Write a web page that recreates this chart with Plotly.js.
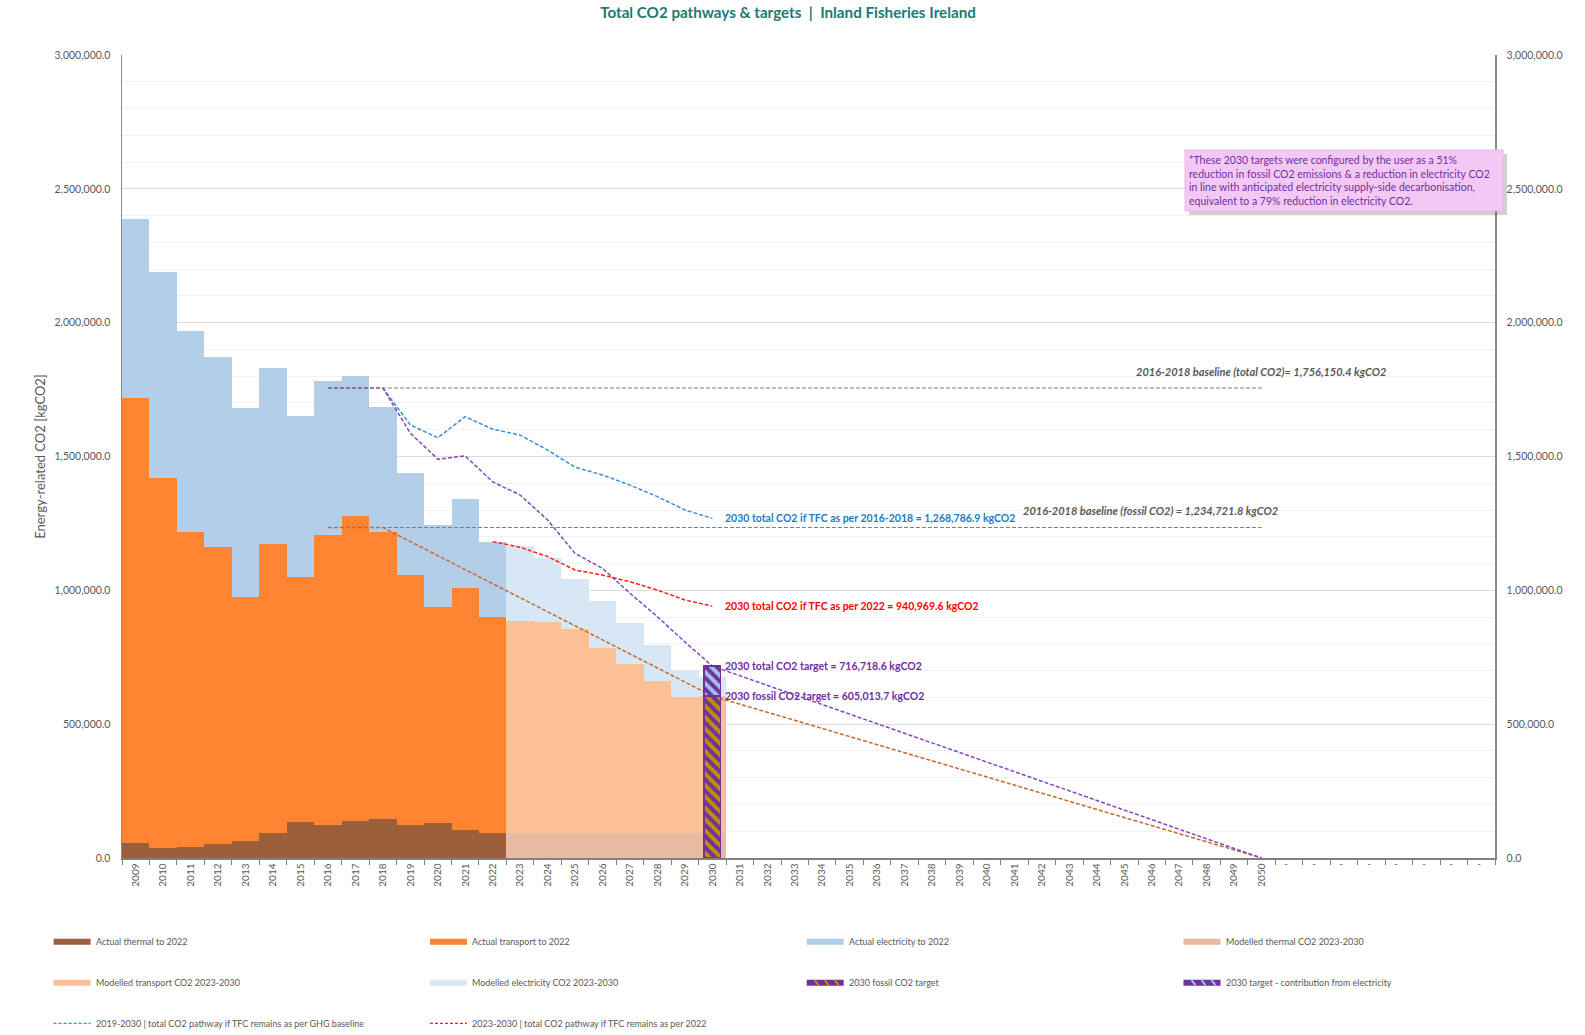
<!DOCTYPE html>
<html><head><meta charset="utf-8">
<script src="https://cdn.plot.ly/plotly-3.0.1.min.js"></script>
<style>html,body{margin:0;padding:0;background:#fff}#chart{width:1585px;height:1035px}</style>
</head><body><div id="chart"></div>
<script>
// ---------- categories ----------
const years = ['2009','2010','2011','2012','2013','2014','2015','2016','2017','2018','2019','2020','2021','2022','2023','2024','2025','2026','2027','2028','2029','2030','2031','2032','2033','2034','2035','2036','2037','2038','2039','2040','2041','2042','2043','2044','2045','2046','2047','2048','2049','2050'];
const blankCats = ['b1','b2','b3','b4','b5','b6','b7','b8'];
const blankLabels = ["'","'","'","'","'","'","'","'"];

// ---------- actual 2009-2022 (kgCO2) ----------
const actualYears = ['2009','2010','2011','2012','2013','2014','2015','2016','2017','2018','2019','2020','2021','2022'];
const thermalActual     = [57000, 36000, 41000, 51000, 62000, 92000, 134000, 123000, 139000, 145000, 123000, 130000, 103000, 92000];
const transportActual   = [1660000, 1383000, 1177000, 1110000, 913000, 1080000, 915000, 1084000, 1140000, 1073000, 934000, 807000, 907000, 807000];
const electricityActual = [670000, 769000, 752000, 712000, 706000, 657000, 601000, 576000, 522000, 466000, 383000, 307000, 330000, 283000];

// ---------- modelled 2023-2030 ----------
const modelYears = ['2023','2024','2025','2026','2027','2028','2029','2030'];
const thermalModelled     = [92000, 92000, 92000, 92000, 92000, 92000, 92000, 92000];
const transportModelled   = [795000, 790000, 764000, 694000, 632000, 569000, 508000, 513000];
const electricityModelled = [279000, 238000, 186000, 175000, 153000, 135000, 102000, 70000];

// ---------- 2030 targets ----------
const targetYear = ['2030'];
const fossilTarget = [605013.7];
const totalTarget = [716718.6];

// ---------- baselines ----------
const baselineYears = ['2016','2050'];
const baselineTotal = [1756150.4, 1756150.4];
const baselineFossil = [1234721.8, 1234721.8];

// ---------- pathways ----------
const ghgPathYears = ['2018','2019','2020','2021','2022','2023','2024','2025','2026','2027','2028','2029','2030'];
const ghgPathValues = [1756150.4, 1618000, 1570000, 1649000, 1602000, 1580000, 1524000, 1460000, 1431000, 1393000, 1350000, 1300000, 1268786.9];

const tfc2022PathYears = ['2022','2023','2024','2025','2026','2027','2028','2029','2030'];
const tfc2022PathValues = [1182000, 1161000, 1126000, 1076000, 1057000, 1032000, 1001000, 964000, 940969.6];

const totalTargetPathYears = ['2016','2017','2018','2019','2020','2021','2022','2023','2024','2025','2026','2027','2028','2029','2030','2050'];
const totalTargetPathValues = [1756150.4, 1756150.4, 1756150.4, 1587000, 1490000, 1502000, 1405000, 1356000, 1263000, 1138000, 1082000, 989000, 901000, 807000, 716718.6, 0];

const fossilTargetPathYears = ['2016','2017','2018','2030','2050'];
const fossilTargetPathValues = [1234721.8, 1234721.8, 1234721.8, 605013.7, 0];

// ---------- labels ----------
const titleText = 'Total CO2 pathways &amp; targets \u00a0|\u00a0 Inland Fisheries Ireland';
const yTitle = 'Energy-related CO2 [kgCO2]';
const noteLines = ['*These 2030 targets were configured by the user as a 51%',
  'reduction in fossil CO2 emissions &amp; a reduction in electricity CO2',
  'in line with anticipated electricity supply-side decarbonisation,',
  'equivalent to a 79% reduction in electricity CO2.'];
const legendNames = ['Actual thermal to 2022','Actual transport to 2022','Actual electricity to 2022','Modelled thermal CO2 2023-2030',
  'Modelled transport CO2 2023-2030','Modelled electricity CO2 2023-2030','2030 fossil CO2 target','2030 target - contribution from electricity',
  '2019-2030 | total CO2 pathway if TFC remains as per GHG baseline','2023-2030 | total CO2 pathway if TFC remains as per 2022'];

// ---------- styling ----------
const C = {
  thermal:'#9c5f3c', transport:'#fd8532', elec:'#b3cee9',
  thermalM:'#e8baa0', transportM:'#fcc095', elecM:'#d7e7f6',
  purple:'#7030a0', gold:'#c09000', lblue:'#9dc3e6',
  blue:'#3a8fd8', red:'#ff1e1e', purpleLine:'#8645c4', orangeLine:'#c8692c', grey:'#7f7f7f', text:'#595959'
};
const FONT = 'Lato, "Open Sans", sans-serif';

const allCats = years.concat(blankCats);
const allLabels = years.concat(blankLabels);

function bar(x, y, color, name) {
  return {type:'bar', x:x, y:y, name:name, width:1, marker:{color:color, line:{width:0}}, xaxis:'x', yaxis:'y', showlegend:false};
}
function dline(x, y, color, name, yaxis) {
  return {type:'scatter', mode:'lines', x:x, y:y, name:name, line:{color:color, width:1.5, dash:'4px,2px'}, xaxis:'x', yaxis:yaxis||'y', showlegend:false};
}

const traces = [
  bar(actualYears, thermalActual, C.thermal, legendNames[0]),
  bar(actualYears, transportActual, C.transport, legendNames[1]),
  bar(actualYears, electricityActual, C.elec, legendNames[2]),
  bar(modelYears, thermalModelled, C.thermalM, legendNames[3]),
  bar(modelYears, transportModelled, C.transportM, legendNames[4]),
  bar(modelYears, electricityModelled, C.elecM, legendNames[5]),
  {type:'bar', x:targetYear, y:fossilTarget, name:legendNames[6], width:0.6, xaxis:'x2', yaxis:'y', showlegend:false,
   marker:{color:C.purple, line:{color:C.purple, width:1.5}, pattern:{shape:'\\', bgcolor:C.purple, fgcolor:C.gold, size:8, solidity:0.5}}},
  {type:'bar', x:targetYear, y:totalTarget.map((v,i)=>v-fossilTarget[i]), name:legendNames[7], width:0.6, xaxis:'x2', yaxis:'y', showlegend:false,
   marker:{color:C.purple, line:{color:C.purple, width:1.5}, pattern:{shape:'\\', bgcolor:C.purple, fgcolor:C.lblue, size:8, solidity:0.5}}},
  dline(baselineYears, baselineTotal, C.grey, '2016-2018 baseline (total CO2)', 'y2'),
  dline(baselineYears, baselineFossil, C.grey, '2016-2018 baseline (fossil CO2)', 'y2'),
  dline(ghgPathYears, ghgPathValues, C.blue, legendNames[8]),
  dline(tfc2022PathYears, tfc2022PathValues, C.red, legendNames[9]),
  dline(fossilTargetPathYears, fossilTargetPathValues, C.orangeLine, 'Fossil CO2 target pathway'),
  dline(totalTargetPathYears, totalTargetPathValues, C.purpleLine, 'Total CO2 target pathway')
];
traces[8].line.width = 1; traces[9].line.width = 1;

// pixel helpers (plot area: x 122..1495, y 55..858)
const L=122, T=55, PW=1373, PH=803;
const px = v => (v-L)/PW;
const py = v => (T+PH-v)/PH;

const shapes = [];
const annotations = [];

// note box
shapes.push({type:'rect', xref:'paper', yref:'paper', x0:px(1189), x1:px(1507), y0:py(154), y1:py(215), fillcolor:'rgba(0,0,0,0.18)', line:{width:0}, layer:'above'});
shapes.push({type:'rect', xref:'paper', yref:'paper', x0:px(1185), x1:px(1503), y0:py(150), y1:py(211), fillcolor:'#f4c8f4', line:{color:'#eab6ea', width:1}, layer:'above'});
annotations.push({xref:'paper', yref:'paper', x:px(1187), y:py(151.5), xanchor:'left', yanchor:'top', align:'left', showarrow:false,
  text:noteLines.join('<br>'), font:{family:FONT, size:10.5, color:C.purple}});

// value labels
const lab = (x, y, text, color, anchor, extra) => Object.assign({xref:'x', yref:'y', x:x, y:y, text:text, showarrow:false, xanchor:anchor, yanchor:'middle',
  font:{family:FONT, size:10.5, color:color, weight:'bold'}}, extra||{});
annotations.push(lab(21.4, ghgPathValues[ghgPathValues.length-1], '2030 total CO2 if TFC as per 2016-2018 = 1,268,786.9 kgCO2', '#1f7ac8', 'left'));
annotations.push(lab(21.4, tfc2022PathValues[tfc2022PathValues.length-1], '2030 total CO2 if TFC as per 2022 = 940,969.6 kgCO2', '#ff0000', 'left'));
annotations.push(lab(21.4, totalTarget[0], '2030 total CO2 target = 716,718.6 kgCO2', C.purple, 'left'));
annotations.push(lab(21.4, fossilTarget[0], '2030 fossil CO2 target = 605,013.7 kgCO2', C.purple, 'left'));
annotations.push(lab(45.62, baselineTotal[0]+61000, '2016-2018 baseline (total CO2)= 1,756,150.4 kgCO2', C.text, 'right', {font:{family:FONT, size:11, color:C.text, weight:'bold', style:'italic'}}));
annotations.push(lab(32.25, baselineFossil[0]+63000, '2016-2018 baseline (fossil CO2) = 1,234,721.8 kgCO2', C.text, 'left', {font:{family:FONT, size:11, color:C.text, weight:'bold', style:'italic'}}));

// custom legend
const legRows = [941.7, 982.7, 1023.3];
const legCols = [53.6, 430, 806.7, 1183.5];
const legendSym = [
  {k:'rect', c:C.thermal}, {k:'rect', c:C.transport}, {k:'rect', c:C.elec}, {k:'rect', c:C.thermalM},
  {k:'rect', c:C.transportM}, {k:'rect', c:C.elecM}, {k:'hatch', c:C.gold}, {k:'hatch', c:C.lblue},
  {k:'line', c:C.blue}, {k:'line', c:C.red}
];
legendSym.forEach((s, i) => {
  const x0 = legCols[i%4], yc = legRows[Math.floor(i/4)];
  if (s.k === 'line') {
    shapes.push({type:'line', xref:'paper', yref:'paper', x0:px(x0), x1:px(x0+37), y0:py(yc), y1:py(yc), line:{color:s.c, width:1.3, dash:'3px,2px'}});
  } else {
    shapes.push({type:'rect', xref:'paper', yref:'paper', x0:px(x0), x1:px(x0+37), y0:py(yc-3), y1:py(yc+3),
      fillcolor: s.k==='hatch' ? C.purple : s.c, line:{width:0}});
    if (s.k === 'hatch') {
      [8, 18, 28].forEach(o => shapes.push({type:'line', xref:'paper', yref:'paper', x0:px(x0+o), x1:px(x0+o+4), y0:py(yc-2.5), y1:py(yc+2.5), line:{color:s.c, width:2}}));
    }
  }
  annotations.push({xref:'paper', yref:'paper', x:px(x0+40), y:py(yc), xanchor:'left', yanchor:'middle', showarrow:false,
    text:legendNames[i], font:{family:FONT, size:9, color:C.text}});
});

const layout = {
  width:1585, height:1035,
  margin:{l:L, r:1585-L-PW, t:T, b:1035-T-PH, pad:0},
  paper_bgcolor:'#ffffff', plot_bgcolor:'#ffffff',
  barmode:'stack', bargap:0,
  showlegend:false,
  font:{family:FONT, color:C.text},
  title:{text:titleText, x:788/1585, xref:'container', xanchor:'center', y:1-13/1035, yref:'container', yanchor:'middle',
    font:{family:FONT, size:15.2, color:'#1a7a74', weight:'bold'}},
  xaxis:{type:'category', categoryorder:'array', categoryarray:allCats, range:[-0.5, allCats.length-0.5],
    tickmode:'array', tickvals:allCats, ticktext:allLabels, tickson:'boundaries', ticks:'outside', ticklen:5, tickcolor:'#808080',
    tickangle:-90, tickfont:{family:FONT, size:10, color:C.text}, showline:true, linecolor:'#808080', linewidth:1.5,
    showgrid:false, zeroline:false, fixedrange:true},
  xaxis2:{type:'category', categoryorder:'array', categoryarray:allCats, range:[-0.5, allCats.length-0.5], overlaying:'x',
    showticklabels:false, ticks:'', showline:false, showgrid:false, zeroline:false},
  yaxis:{range:[0,3000000], dtick:500000, tickformat:',.1f', tickfont:{family:FONT, size:10.5, color:C.text},
    showline:true, linecolor:'#8c8c8c', linewidth:1.5, gridcolor:'#dcdcdc', gridwidth:1, zeroline:false,
    ticklabelstandoff:8,
    minor:{dtick:100000, showgrid:true, gridcolor:'#f1f1f1', gridwidth:1},
    title:{text:yTitle, font:{family:FONT, size:13, color:C.text}, standoff:6}},
  yaxis2:{range:[0,3000000], dtick:500000, tickformat:',.1f', overlaying:'y', side:'right', tickfont:{family:FONT, size:10.5, color:C.text},
    showline:true, linecolor:'#8c8c8c', linewidth:1.5, showgrid:false, zeroline:false, ticklabelstandoff:8},
  shapes:shapes,
  annotations:annotations
};

Plotly.newPlot('chart', traces, layout, {displayModeBar:false, staticPlot:true});
</script>
</body></html>
